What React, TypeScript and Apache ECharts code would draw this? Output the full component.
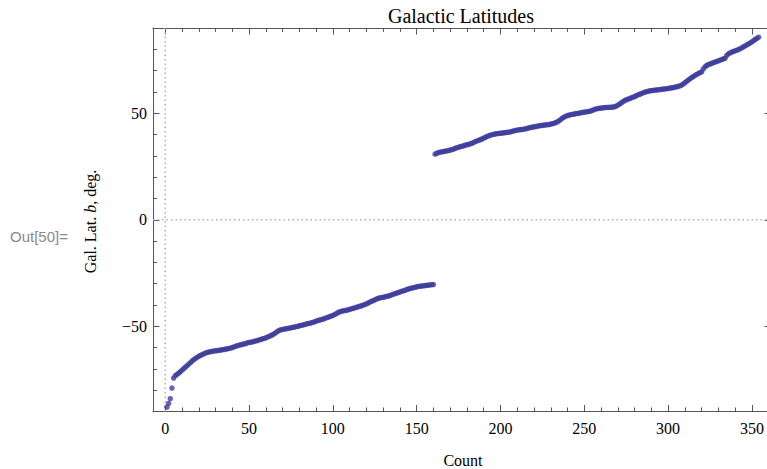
import { useEffect, useRef } from "react";
import * as echarts from "echarts";

// Sorted galactic latitudes (degrees), southern hemisphere objects first.
const southernLatitudes: number[] = [
  -88.0, -86.2, -84.0, -79.0, -74.3, -73.2, -72.6, -72.0, -71.3, -70.6,
  -69.9, -69.2, -68.5, -67.8, -67.1, -66.3, -65.7, -65.1, -64.6, -64.1,
  -63.7, -63.3, -62.9, -62.6, -62.3, -62.1, -61.9, -61.8, -61.6, -61.5,
  -61.4, -61.3, -61.2, -61.0, -60.9, -60.7, -60.6, -60.4, -60.2, -60.0,
  -59.7, -59.4, -59.1, -58.9, -58.7, -58.5, -58.3, -58.1, -57.8, -57.6,
  -57.5, -57.3, -57.1, -56.9, -56.7, -56.4, -56.2, -55.9, -55.7, -55.4,
  -55.1, -54.7, -54.4, -54.0, -53.5, -53.0, -52.4, -51.9, -51.7, -51.5,
  -51.3, -51.2, -51.0, -50.9, -50.7, -50.5, -50.4, -50.2, -50.0, -49.8,
  -49.6, -49.4, -49.2, -49.0, -48.8, -48.6, -48.4, -48.2, -47.9, -47.6,
  -47.3, -47.1, -46.9, -46.6, -46.4, -46.1, -45.8, -45.5, -45.2, -44.9,
  -44.5, -44.1, -43.6, -43.2, -43.0, -42.8, -42.6, -42.5, -42.3, -42.1,
  -41.8, -41.6, -41.4, -41.1, -40.9, -40.6, -40.4, -40.1, -39.8, -39.5,
  -39.1, -38.7, -38.3, -38.0, -37.6, -37.2, -36.9, -36.7, -36.5, -36.4,
  -36.2, -36.0, -35.8, -35.6, -35.3, -35.0, -34.7, -34.4, -34.2, -33.9,
  -33.6, -33.4, -33.1, -32.8, -32.5, -32.3, -32.1, -31.9, -31.7, -31.5,
  -31.3, -31.2, -31.1, -31.0, -30.9, -30.8, -30.7, -30.6, -30.5, -30.4,
];

const northernLatitudes: number[] = [
  30.8, 31.2, 31.5, 31.7, 31.9, 32.0, 32.2, 32.3, 32.5, 32.7,
  32.9, 33.2, 33.5, 33.8, 34.0, 34.3, 34.5, 34.7, 35.0, 35.2,
  35.4, 35.6, 35.9, 36.3, 36.7, 37.0, 37.3, 37.6, 37.9, 38.3,
  38.7, 39.1, 39.4, 39.7, 39.9, 40.1, 40.3, 40.4, 40.5, 40.6,
  40.7, 40.8, 40.9, 41.0, 41.1, 41.3, 41.5, 41.7, 41.9, 42.1,
  42.2, 42.3, 42.4, 42.5, 42.7, 42.9, 43.1, 43.3, 43.5, 43.6,
  43.7, 43.9, 44.1, 44.2, 44.3, 44.4, 44.5, 44.6, 44.7, 44.9,
  45.1, 45.3, 45.6, 46.0, 46.5, 47.1, 47.7, 48.2, 48.6, 48.9,
  49.1, 49.3, 49.5, 49.6, 49.8, 49.9, 50.1, 50.2, 50.4, 50.5,
  50.6, 50.7, 50.9, 51.1, 51.4, 51.7, 52.0, 52.2, 52.3, 52.4,
  52.5, 52.6, 52.7, 52.7, 52.8, 52.8, 52.9, 53.0, 53.3, 53.8,
  54.3, 54.8, 55.4, 55.9, 56.3, 56.6, 56.9, 57.2, 57.5, 57.8,
  58.2, 58.6, 58.9, 59.2, 59.5, 59.8, 60.1, 60.3, 60.5, 60.6,
  60.7, 60.8, 60.9, 61.0, 61.1, 61.2, 61.3, 61.4, 61.5, 61.6,
  61.8, 61.9, 62.0, 62.2, 62.4, 62.6, 62.8, 63.2, 63.7, 64.3,
  64.9, 65.5, 66.1, 66.7, 67.2, 67.7, 68.2, 68.6, 69.0, 69.4,
  70.8, 71.8, 72.4, 72.8, 73.1, 73.4, 73.7, 74.0, 74.3, 74.6,
  74.9, 75.2, 75.5, 75.8, 77.2, 77.9, 78.3, 78.7, 79.0, 79.3,
  79.6, 79.9, 80.3, 80.7, 81.2, 81.6, 82.1, 82.5, 83.0, 83.5,
  84.1, 84.6, 85.1, 85.7,
];

// Tick positions for the framed axes.
const countMajorTicks = [0, 50, 100, 150, 200, 250, 300, 350];
const countMinorTicks = [
  10, 20, 30, 40, 60, 70, 80, 90, 110, 120, 130, 140, 160, 170, 180, 190,
  210, 220, 230, 240, 260, 270, 280, 290, 310, 320, 330, 340, 360,
];
const latMajorTicks = [-50, 0, 50];
const latMinorTicks = [-80, -70, -60, -40, -30, -20, -10, 10, 20, 30, 40, 60, 70, 80];

const X_MIN = -7.3;
const X_MAX = 361.4;
const Y_MIN = -90;
const Y_MAX = 90;

const SERIF = "'Liberation Serif', 'Times New Roman', serif";
const FRAME = "#555555";

const fmtNum = (v: number) => (v < 0 ? "\u2212" + Math.abs(v) : String(v));

function xAxisDef(grid: number, pos: "bottom" | "top", ticks: number[], len: number, labels: boolean, line: boolean) {
  return {
    type: "value",
    gridIndex: grid,
    position: pos,
    min: X_MIN,
    max: X_MAX,
    axisLine: { show: line, onZero: false, lineStyle: { color: FRAME, width: 1 } },
    axisTick: { show: true, inside: true, length: len, customValues: ticks, lineStyle: { color: FRAME, width: 1 } },
    axisLabel: {
      show: labels,
      customValues: ticks,
      margin: 9,
      color: "#000",
      fontFamily: SERIF,
      fontSize: 16,
      formatter: (v: number) => fmtNum(v),
    },
    splitLine: { show: false },
  };
}

function yAxisDef(grid: number, pos: "left" | "right", ticks: number[], len: number, labels: boolean, line: boolean) {
  return {
    type: "value",
    gridIndex: grid,
    position: pos,
    min: Y_MIN,
    max: Y_MAX,
    axisLine: { show: line, onZero: false, lineStyle: { color: FRAME, width: 1 } },
    axisTick: { show: true, inside: true, length: len, customValues: ticks, lineStyle: { color: FRAME, width: 1 } },
    axisLabel: {
      show: labels,
      customValues: ticks,
      margin: 6,
      color: "#000",
      fontFamily: SERIF,
      fontSize: 16,
      formatter: (v: number) => fmtNum(v),
    },
    splitLine: { show: false },
  };
}

export default function App() {
  const ref = useRef<HTMLDivElement>(null);

  useEffect(() => {
    if (!ref.current) return;
    const chart = echarts.init(ref.current, undefined, { renderer: "svg" });

    const points = [
      ...southernLatitudes.map((b, i) => [i + 1, b]),
      ...northernLatitudes.map((b, i) => [southernLatitudes.length + i + 1, b]),
    ];

    // The frame runs a few pixels past the right edge of the page.
    const gridRect = {
      left: 153,
      top: 28,
      width: 618,
      height: 383.5,
      containLabel: false,
      outerBoundsMode: "none",
    };

    chart.setOption({
      animation: false,
      backgroundColor: "#ffffff",
      grid: [{ ...gridRect }, { ...gridRect }],
      xAxis: [
        xAxisDef(0, "bottom", countMajorTicks, 6.5, true, true),
        xAxisDef(0, "top", countMajorTicks, 6.5, false, true),
        xAxisDef(1, "bottom", countMinorTicks, 4, false, false),
        xAxisDef(1, "top", countMinorTicks, 4, false, false),
      ],
      yAxis: [
        yAxisDef(0, "left", latMajorTicks, 6.5, true, true),
        yAxisDef(0, "right", latMajorTicks, 6.5, false, true),
        yAxisDef(1, "left", latMinorTicks, 4, false, false),
        yAxisDef(1, "right", latMinorTicks, 4, false, false),
      ],
      series: [
        {
          type: "line",
          xAxisIndex: 0,
          yAxisIndex: 0,
          data: [
            [0, Y_MIN],
            [0, Y_MAX],
          ],
          symbol: "none",
          silent: true,
          z: 1,
          lineStyle: { color: "#b0b0b0", width: 1.5, type: [1.5, 3] },
        },
        {
          type: "line",
          xAxisIndex: 0,
          yAxisIndex: 0,
          data: [
            [X_MIN, 0],
            [X_MAX, 0],
          ],
          symbol: "none",
          silent: true,
          z: 1,
          lineStyle: { color: "#b0b0b0", width: 1.5, type: [1.5, 3] },
        },
        {
          type: "scatter",
          xAxisIndex: 0,
          yAxisIndex: 0,
          data: points,
          symbol: "circle",
          symbolSize: 5.5,
          z: 3,
          itemStyle: { color: "#3d3d9c" },
        },
      ],
      graphic: [
        {
          type: "text",
          x: 461,
          y: 16,
          style: {
            text: "Galactic Latitudes",
            fontFamily: SERIF,
            fontSize: 20,
            fill: "#000",
            align: "center",
            verticalAlign: "middle",
          },
        },
        {
          type: "text",
          x: 463,
          y: 460,
          style: {
            text: "Count",
            fontFamily: SERIF,
            fontSize: 16,
            fill: "#000",
            align: "center",
            verticalAlign: "middle",
          },
        },
        {
          type: "text",
          x: 90,
          y: 221.5,
          rotation: Math.PI / 2,
          style: {
            text: "{n|Gal. Lat. }{i|b}{n|, deg.}",
            align: "center",
            verticalAlign: "middle",
            rich: {
              n: { fontFamily: SERIF, fontSize: 16, fill: "#000" },
              i: { fontFamily: SERIF, fontSize: 16, fontStyle: "italic", fill: "#000" },
            },
          },
        },
        {
          type: "text",
          x: 10,
          y: 236,
          style: {
            text: "Out[50]=",
            fontFamily: "'Liberation Sans', Arial, sans-serif",
            fontSize: 15,
            fill: "#8a8a8a",
            align: "left",
            verticalAlign: "middle",
          },
        },
      ],
    });

    return () => chart.dispose();
  }, []);

  return (
    <div
      ref={ref}
      style={{ position: "fixed", left: 0, top: 0, width: 767, height: 469, background: "#fff" }}
    />
  );
}
